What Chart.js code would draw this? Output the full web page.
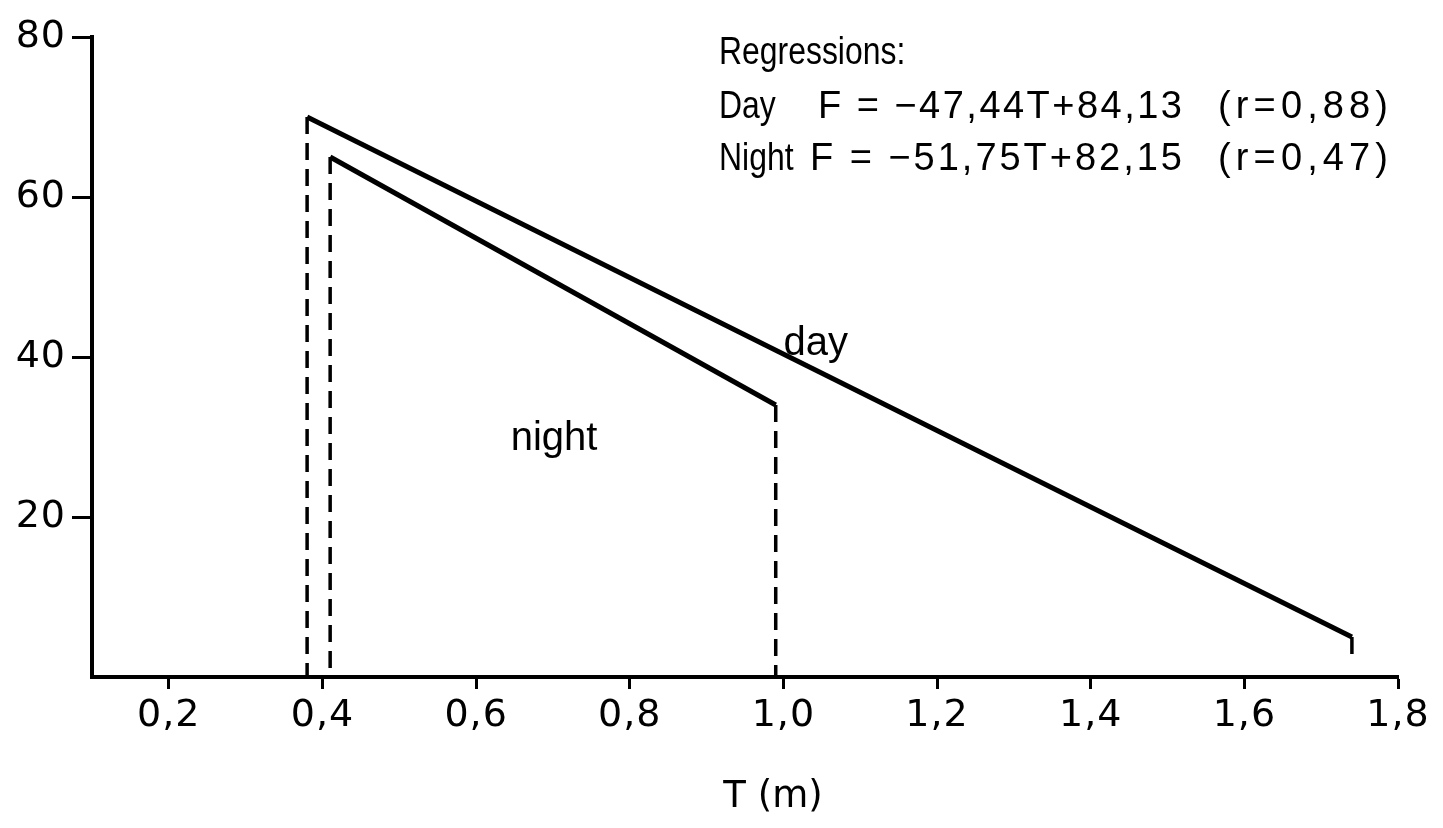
<!DOCTYPE html>
<html>
<head>
<meta charset="utf-8">
<script src="https://cdn.jsdelivr.net/npm/chart.js@4.4.1/dist/chart.umd.min.js"></script>
<style>
  html, body { margin: 0; padding: 0; background: #fff; }
  #wrap { width: 1443px; height: 828px; }
</style>
</head>
<body>
<div id="wrap"><canvas id="regChart" width="1443" height="828"></canvas></div>
<script>
// regression lines (T in m, F)
const dayT = [0.38, 1.74];
const dayF = [70, 5];
const nightT = [0.41, 0.99];
const nightF = [65, 34];
const dayEndDrop = 2;

const xTicks = [0.2, 0.4, 0.6, 0.8, 1.0, 1.2, 1.4, 1.6, 1.8];
const yTicks = [20, 40, 60, 80];

const regTitle = 'Regressions:';
const regNames = ['Day', 'Night'];
const regEqs = ['F = \u221247,44T+84,13', 'F = \u221251,75T+82,15'];
const regR = ['(r=0,88)', '(r=0,47)'];

const pts = (xs, ys) => xs.map((x, i) => ({ x: x, y: ys[i] }));

const solid = { showLine: true, pointRadius: 0, borderColor: '#000', borderWidth: 5, fill: false };
const dashed = { showLine: true, pointRadius: 0, borderColor: '#000', borderWidth: 3.5, borderDash: [17, 9], fill: false };

const datasets = [
  Object.assign({ label: 'day', data: pts(dayT, dayF) }, solid),
  Object.assign({ label: 'night', data: pts(nightT, nightF) }, solid),
  Object.assign({ label: 'd0', data: pts([dayT[0], dayT[0]], [dayF[0], 0]) }, dashed),
  Object.assign({ label: 'n0', data: pts([nightT[0], nightT[0]], [nightF[0], 0]) }, dashed),
  Object.assign({ label: 'n1', data: pts([nightT[1], nightT[1]], [nightF[1], 0]) }, dashed),
  Object.assign({ label: 'd1', data: pts([dayT[1], dayT[1]], [dayF[1], dayEndDrop]) }, dashed)
];

// draw text stretched to a given width by letter spacing
function fitText(ctx, txt, x, y, w) {
  ctx.letterSpacing = '0px';
  const m = ctx.measureText(txt).width;
  const sp = (w - m) / Math.max(1, txt.length - 1);
  ctx.letterSpacing = sp + 'px';
  ctx.fillText(txt, x, y);
  ctx.letterSpacing = '0px';
}

// condensed text
function narrowText(ctx, txt, x, y, k) {
  ctx.save();
  ctx.translate(x, y);
  ctx.scale(k, 1);
  ctx.fillText(txt, 0, 0);
  ctx.restore();
}

const textPlugin = {
  id: 'textPlugin',
  beforeDraw(chart) {
    chart.ctx.letterSpacing = '1px';
  },
  afterDraw(chart) {
    const ctx = chart.ctx;
    const xs = chart.scales.x, ys = chart.scales.y;
    ctx.save();
    ctx.fillStyle = '#000';
    ctx.textBaseline = 'alphabetic';
    ctx.textAlign = 'left';
    ctx.letterSpacing = '0px';

    // regression block
    ctx.font = '38px "Liberation Sans", Arial, sans-serif';
    narrowText(ctx, regTitle, 719, 64, 0.84);
    const rowY = [118, 170];
    const eqX = [818, 810];
    rowY.forEach((by, i) => {
      narrowText(ctx, regNames[i], 719, by, 0.84);
      fitText(ctx, regEqs[i], eqX[i], by, 1182 - eqX[i]);
      fitText(ctx, regR[i], 1218, by, 1388 - 1218);
    });

    // line labels
    ctx.font = '40px "Liberation Sans", Arial, sans-serif';
    ctx.fillText('day', xs.getPixelForValue(1.0), ys.getPixelForValue(40.3));
    ctx.fillText('night', xs.getPixelForValue(0.645), ys.getPixelForValue(28.4));

    // axis title
    ctx.font = '37px "DejaVu Sans", sans-serif';
    ctx.textAlign = 'center';
    ctx.textBaseline = 'middle';
    ctx.fillText('T (m)', 773, 797);
    ctx.restore();
  }
};

new Chart(document.getElementById('regChart'), {
  type: 'scatter',
  data: { datasets: datasets },
  options: {
    responsive: false,
    animation: false,
    layout: { padding: { top: 37, right: 45, left: 0, bottom: 0 } },
    plugins: { legend: { display: false }, tooltip: { enabled: false } },
    scales: {
      x: {
        type: 'linear',
        min: 0.1,
        max: 1.8,
        afterBuildTicks: (scale) => { scale.ticks = xTicks.map(v => ({ value: v })); },
        afterFit: (scale) => { scale.height = 151; },
        ticks: {
          color: '#000',
          font: { family: '"DejaVu Sans", sans-serif', size: 38 },
          padding: 4,
          maxRotation: 0,
          callback: (v) => v.toFixed(1).replace('.', ',')
        },
        grid: { drawOnChartArea: false, drawTicks: true, tickLength: 12, tickWidth: 3, tickColor: '#000' },
        border: { display: true, color: '#000', width: 4 }
      },
      y: {
        type: 'linear',
        min: 0,
        max: 80,
        afterBuildTicks: (scale) => { scale.ticks = yTicks.map(v => ({ value: v })); },
        afterFit: (scale) => { scale.width = 92; },
        ticks: {
          color: '#000',
          font: { family: '"DejaVu Sans", sans-serif', size: 38 },
          padding: 6,
          callback: (v) => String(v)
        },
        grid: { drawOnChartArea: false, drawTicks: true, tickLength: 20, tickWidth: 3, tickColor: '#000' },
        border: { display: true, color: '#000', width: 4 }
      }
    }
  },
  plugins: [textPlugin]
});
</script>
</body>
</html>
